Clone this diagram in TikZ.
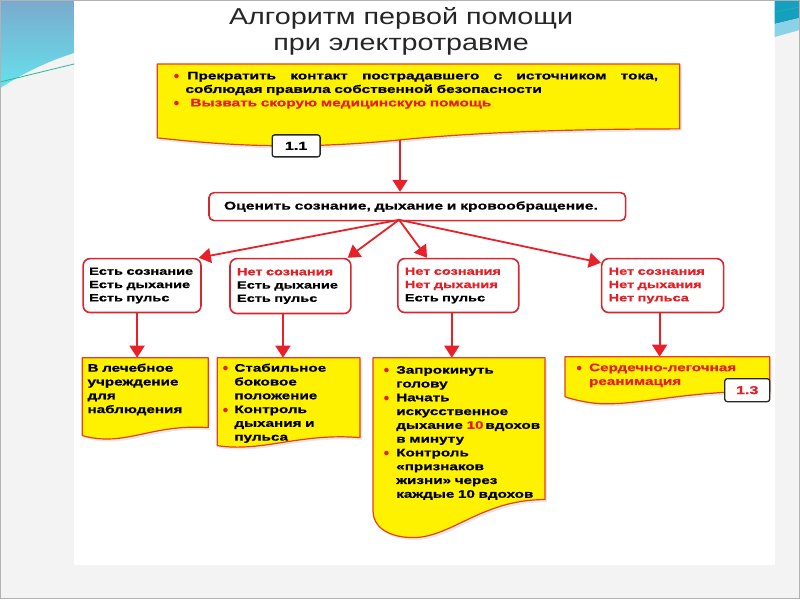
\documentclass[tikz,border=0pt]{standalone}
\usepackage{fontspec}
\setmainfont[FakeStretch=1.4,BoldFeatures={FakeBold=0.8}]{Liberation Sans}
\newfontfamily\titlefont[FakeStretch=1.25]{Liberation Sans}
\newfontfamily\bulfont{Liberation Sans}
\usetikzlibrary{arrows.meta,calc,shadows}
\definecolor{cred}{RGB}{232,32,42}
\definecolor{tred}{RGB}{227,30,36}
\definecolor{yfill}{RGB}{255,242,0}
\definecolor{yline}{RGB}{232,62,35}
\definecolor{bred}{RGB}{214,38,46}
\definecolor{bggrey}{RGB}{243,243,243}
\definecolor{bluetop}{RGB}{122,170,205}
\definecolor{bluebot}{RGB}{102,226,236}
\definecolor{tealA}{RGB}{22,160,192}
\definecolor{tealB}{RGB}{140,210,230}
\definecolor{tealL}{RGB}{40,180,160}
\newcommand{\mybul}[1]{\makebox[#1][l]{\textcolor{tred}{\bulfont\fontsize{10.5}{10}\selectfont ●}}}
\begin{document}
\begin{tikzpicture}[x=1pt,y=-1pt,
  ybox/.style={fill=yfill,draw=yline,line width=1.2pt,line join=round,drop shadow={opacity=0.18,shadow xshift=2pt,shadow yshift=-2.5pt}},
  rbox/.style={draw=bred,fill=white,line width=1.6pt,rounded corners=7pt,anchor=north west,align=left,inner xsep=7pt,inner ysep=0pt,font=\bfseries\fontsize{10.4}{13.3}\selectfont},
  lbl/.style={draw=black!85,fill=white,line width=1.3pt,rounded corners=2.5pt,font=\bfseries\fontsize{11.5}{13}\selectfont,inner sep=0pt},
  ytext/.style={anchor=base west,inner sep=0pt,align=left,text width=200pt,font=\bfseries\fontsize{10.9}{13.8}\selectfont},
  conn/.style={draw=cred,line width=1.8pt,-{Triangle[width=15pt,length=12pt]}}]
% background
\fill[bggrey] (0,0) rectangle (800,600);
\fill[white] (74,0) rectangle (775,565);
\shade[top color=bluetop,bottom color=bluebot] (0,0) -- (74,0) -- (74,53) .. controls (45,62) and (20,75) .. (0,88) -- cycle;
\draw[tealL,line width=0.8pt] (0,82) -- (74,64);
\fill[tealA] (775,0) -- (800,0) -- (800,18) -- (775,24) -- cycle;
\fill[tealB] (775,24) -- (800,18) -- (800,30) -- (775,37) -- cycle;
\draw[tealL,line width=0.6pt] (775,12) -- (800,7);
\draw[gray!60,line width=1pt] (0.5,0.5) rectangle (799.5,599.5);
\useasboundingbox (0,0) rectangle (800,600);
% title
\node[align=center,text=black!85,font=\titlefont\fontsize{23}{26}\selectfont] (title) at (401,31) {Алгоритм первой помощи\\при электротравме};
% top yellow box
\filldraw[ybox] (157,64) -- (680,64) -- (680,129) .. controls (580,129) and (480,132) .. (400,140) .. controls (300,150) and (230,146) .. (157,138) -- cycle;
\node[anchor=base west,inner sep=0pt,align=left,text width=500pt,font=\bfseries\fontsize{11}{13.5}\selectfont] (t1) at (173,79.5)
 {\mybul{14pt}\makebox[471pt][s]{Прекратить\hfill контакт\hfill пострадавшего\hfill с\hfill источником\hfill тока,}\\
  \hspace*{12pt}соблюдая правила собственной безопасности\\
  \mybul{17pt}\textcolor{tred}{Вызвать скорую медицинскую помощь}};
\node[lbl,minimum width=48pt,minimum height=22pt] (l11) at (296,146) {1.1};
\coordinate (w1) at (400,140);
% assess box
\node[rbox,rounded corners=5pt,minimum width=417pt,minimum height=28pt,inner xsep=15pt,text width=387pt,font=\bfseries\fontsize{11.2}{13}\selectfont] (assess) at (208,192) {Оценить сознание, дыхание и кровообращение.};
\draw[conn] (w1) -- (w1 |- assess.north);
% state boxes
\node[rbox,minimum width=118pt,minimum height=54pt,inner xsep=6pt,text width=106pt] (a) at (82,258) {Есть сознание\\Есть дыхание\\Есть пульс};
\node[rbox,minimum width=121pt,minimum height=55pt,text width=107pt] (b) at (229,258) {\textcolor{tred}{Нет сознания}\\Есть дыхание\\Есть пульс};
\node[rbox,minimum width=121pt,minimum height=54pt,text width=107pt] (c) at (397,258) {\textcolor{tred}{Нет сознания}\\\textcolor{tred}{Нет дыхания}\\Есть пульс};
\node[rbox,minimum width=122pt,minimum height=54pt,text width=108pt,text=tred] (d) at (601,258) {Нет сознания\\Нет дыхания\\Нет пульса};
\coordinate (fan) at (399,220);
\draw[conn] (fan) -- ($(a.north east)+(-3,0)$);
\draw[conn] (fan) -- ($(b.north east)+(-4,0)$);
\draw[conn] (fan) -- ($(c.north west)+(30,0)$);
\draw[conn] (fan) -- ($(d.north west)+(0,5)$);
% yellow action boxes
\filldraw[ybox] (82,358) -- (208,358) -- (208,428) .. controls (150,424) and (125,448) .. (82,436) -- cycle;
\filldraw[ybox] (217,358) -- (360,358) -- (360,438) .. controls (300,433) and (262,453) .. (217,446) -- cycle;
\filldraw[ybox] (373,358) -- (545,358) -- (545,500) .. controls (480,500) and (450,540) .. (410,538) .. controls (386,537) and (373,526) .. (373,512) -- cycle;
\filldraw[ybox] (565,357) -- (770,357) -- (770,392) .. controls (690,390) and (640,406) .. (600,404) .. controls (585,403) and (570,399) .. (565,397) -- cycle;
\coordinate (y1) at (145,358);
\coordinate (y2) at (288,358);
\coordinate (y3) at (460,358);
\coordinate (y4) at (667,357);
\draw[conn] ($(a.south)+(-5,0)$) coordinate (a1) -- (a1 |- y1);
\draw[conn] ($(b.south)+(-7.5,0)$) coordinate (b1) -- (b1 |- y2);
\draw[conn] ($(c.south)+(-6.5,0)$) coordinate (c1) -- (c1 |- y3);
\draw[conn] ($(d.south)+(-3,0)$) coordinate (d1) -- (d1 |- y4);
\node[ytext] (t2) at (87,372) {В лечебное\\учреждение\\для\\наблюдения};
\node[ytext] (t3) at (222,372) {\mybul{12pt}Стабильное\\\hspace*{12pt}боковое\\\hspace*{12pt}положение\\\mybul{12pt}Контроль\\\hspace*{12pt}дыхания и\\\hspace*{12pt}пульса};
\node[ytext] (t4) at (383,374) {\mybul{13pt}Запрокинуть\\\hspace*{13pt}голову\\\mybul{13pt}Начать\\\hspace*{13pt}искусственное\\\hspace*{13pt}дыхание \textcolor{tred}{10}\,вдохов\\\hspace*{13pt}в минуту\\\mybul{13pt}Контроль\\\hspace*{13pt}«признаков\\\hspace*{13pt}жизни» через\\\hspace*{13pt}каждые 10 вдохов};
\node[ytext,text=tred] (t5) at (576,371.5) {\mybul{13pt}Сердечно-легочная\\\hspace*{13pt}реанимация};
\node[lbl,minimum width=45pt,minimum height=23pt,text=tred] (l13) at (747.5,390.5) {1.3};
\end{tikzpicture}
\end{document}
